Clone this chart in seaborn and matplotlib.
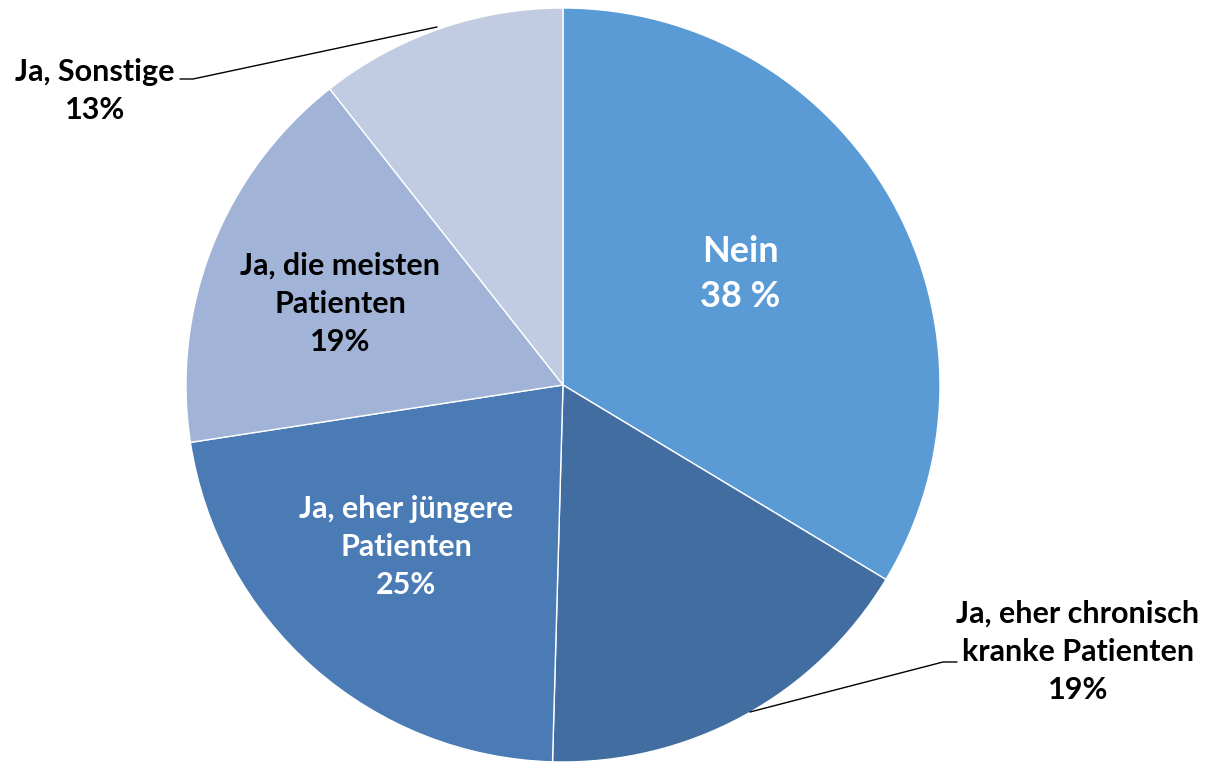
import matplotlib
matplotlib.use("Agg")
import matplotlib.pyplot as plt
import seaborn as sns

# answers; slice sizes as drawn (angles) and the printed labels
categories = ["Nein", "Ja, eher chronisch\nkranke Patienten", "Ja, eher jüngere\nPatienten",
              "Ja, die meisten\nPatienten", "Ja, Sonstige"]
values = [38, 19, 25, 19, 12]
pct_labels = ["38 %", "19%", "25%", "19%", "13%"]
colors = ["#5B9BD5", "#426DA0", "#4A7BB5", "#A1B3D6", "#C1CCE2"]

sns.set_style("white")
plt.rcParams["font.family"] = ["Lato", "DejaVu Sans"]

W, H = 1208, 762
fig = plt.figure(figsize=(W / 100, H / 100), dpi=100)
ax = fig.add_axes([0, 0, 1, 1])

cx, cy, r = 563, H - 385, 377
ax.pie(values, colors=colors, startangle=90, counterclock=False,
       center=(cx, cy), radius=r, frame=True,
       wedgeprops=dict(edgecolor="white", linewidth=1))
ax.set_xlim(0, W)
ax.set_ylim(0, H)
ax.set_aspect("equal")
ax.axis("off")

def px(x, y):
    return x, H - y

kw = dict(ha="center", va="center", fontweight="bold", linespacing=1.45)
ax.text(*px(740, 274), f"{categories[0]}\n{pct_labels[0]}", color="white", fontsize=26,
        **{**kw, "linespacing": 1.42})
ax.text(*px(1078, 652), f"{categories[1]}\n{pct_labels[1]}", color="black", fontsize=22, **kw)
ax.text(*px(406, 547), f"{categories[2]}\n{pct_labels[2]}", color="white", fontsize=22, **kw)
ax.text(*px(340, 304), f"{categories[3]}\n{pct_labels[3]}", color="black", fontsize=22, **kw)
ax.text(*px(95, 91), f"{categories[4]}\n{pct_labels[4]}", color="black", fontsize=22, **kw)

# leader lines
ax.plot(*zip(px(750, 712), px(943, 662), px(957, 662)), color="black", lw=1)
ax.plot(*zip(px(180, 79), px(193, 79), px(437, 27)), color="black", lw=1)

fig.savefig("out.png", dpi=100, facecolor="white")
